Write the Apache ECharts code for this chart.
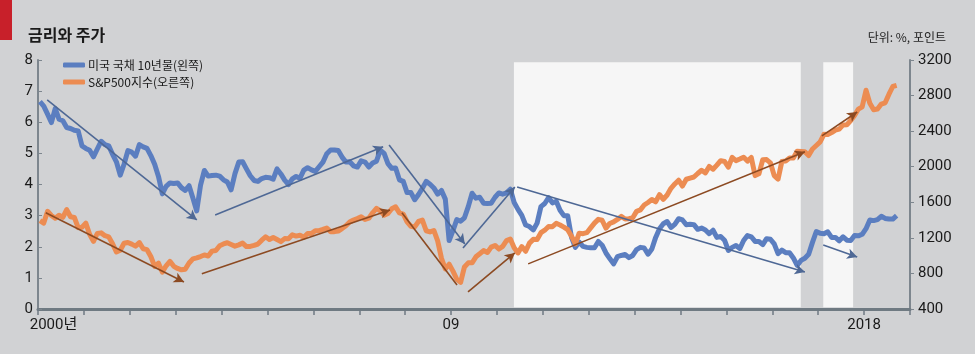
<!DOCTYPE html>
<html>
<head>
<meta charset="utf-8">
<title>금리와 주가</title>
<script src="https://cdn.jsdelivr.net/npm/echarts@6/dist/echarts.min.js"></script>
<style>
  html, body { margin: 0; padding: 0; background: #d1d2d4; }
  #chart { width: 975px; height: 354px; }
</style>
</head>
<body>
<div id="chart"></div>
<script>
// monthly values, Jan 2000 - Sep 2018
var startYear = 2000;

// US 10-year treasury yield (%) - left axis
var treasury10y = [
  6.66, 6.52, 6.26, 5.99, 6.44, 6.10, 6.05, 5.83, 5.80, 5.74, 5.72, 5.24,
  5.16, 5.10, 4.89, 5.14, 5.39, 5.28, 5.24, 4.97, 4.73, 4.30, 4.65, 5.09,
  5.04, 4.91, 5.28, 5.21, 5.16, 4.93, 4.65, 4.26, 3.70, 3.94, 4.05, 4.03,
  4.05, 3.90, 3.81, 3.96, 3.57, 3.15, 3.98, 4.45, 4.27, 4.29, 4.30, 4.27,
  4.15, 4.08, 3.83, 4.35, 4.72, 4.73, 4.50, 4.28, 4.13, 4.10, 4.19, 4.23,
  4.22, 4.17, 4.50, 4.34, 4.14, 4.00, 4.18, 4.26, 4.20, 4.46, 4.54, 4.47,
  4.42, 4.57, 4.72, 4.99, 5.11, 5.11, 5.09, 4.88, 4.72, 4.73, 4.60, 4.56,
  4.76, 4.72, 4.56, 4.69, 4.75, 5.10, 5.00, 4.67, 4.52, 4.53, 4.15, 4.10,
  3.74, 3.74, 3.51, 3.68, 3.88, 4.10, 4.01, 3.89, 3.69, 3.81, 3.53, 2.20,
  2.52, 2.87, 2.82, 2.93, 3.29, 3.72, 3.56, 3.59, 3.40, 3.39, 3.40, 3.59,
  3.73, 3.69, 3.73, 3.85, 3.42, 3.20, 3.01, 2.70, 2.65, 2.54, 2.76, 3.29,
  3.39, 3.58, 3.41, 3.46, 3.17, 3.00, 3.00, 2.30, 1.98, 2.15, 2.01, 1.98,
  1.97, 1.97, 2.17, 2.05, 1.80, 1.62, 1.45, 1.68, 1.72, 1.75, 1.65, 1.72,
  1.91, 1.98, 1.96, 1.76, 1.93, 2.30, 2.58, 2.74, 2.81, 2.62, 2.72, 2.90,
  2.86, 2.71, 2.72, 2.71, 2.56, 2.60, 2.54, 2.42, 2.53, 2.30, 2.33, 2.21,
  1.88, 1.98, 2.04, 1.94, 2.20, 2.36, 2.32, 2.17, 2.17, 2.07, 2.26, 2.24,
  2.09, 1.78, 1.89, 1.81, 1.81, 1.64, 1.40, 1.56, 1.63, 1.76, 2.14, 2.49,
  2.43, 2.42, 2.48, 2.30, 2.30, 2.19, 2.32, 2.21, 2.20, 2.36, 2.35, 2.40,
  2.58, 2.86, 2.84, 2.87, 2.98, 2.91, 2.89, 2.89, 3.00
];

// S&P 500 index (points) - right axis
var sp500 = [
  1394, 1366, 1499, 1452, 1421, 1455, 1431, 1518, 1437, 1429, 1315, 1320,
  1366, 1240, 1160, 1249, 1256, 1224, 1211, 1134, 1041, 1060, 1139, 1148,
  1130, 1107, 1147, 1077, 1067, 990, 880, 916, 815, 886, 936, 880,
  856, 841, 848, 917, 964, 975, 990, 1008, 996, 1051, 1058, 1112,
  1131, 1145, 1126, 1107, 1121, 1141, 1102, 1104, 1115, 1130, 1174, 1212,
  1181, 1204, 1181, 1157, 1192, 1191, 1234, 1220, 1229, 1207, 1249, 1248,
  1280, 1281, 1295, 1311, 1270, 1270, 1277, 1304, 1336, 1378, 1401, 1418,
  1438, 1407, 1421, 1482, 1531, 1503, 1455, 1474, 1527, 1549, 1481, 1468,
  1379, 1331, 1323, 1386, 1400, 1280, 1267, 1283, 1166, 969, 850, 903,
  826, 735, 700, 873, 919, 919, 987, 1021, 1057, 1036, 1096, 1115,
  1074, 1104, 1169, 1187, 1089, 1031, 1102, 1049, 1141, 1183, 1181, 1258,
  1286, 1327, 1326, 1364, 1345, 1321, 1292, 1219, 1131, 1253, 1247, 1258,
  1312, 1366, 1408, 1398, 1310, 1362, 1379, 1407, 1441, 1412, 1416, 1426,
  1498, 1515, 1569, 1598, 1631, 1606, 1686, 1633, 1682, 1757, 1806, 1848,
  1783, 1859, 1872, 1884, 1924, 1960, 1931, 2003, 1972, 2018, 2068, 2059,
  1995, 2105, 2068, 2086, 2107, 2063, 2104, 1900, 1920, 2079, 2080, 2044,
  1900, 1860, 2060, 2065, 2097, 2099, 2174, 2171, 2168, 2126, 2199, 2239,
  2279, 2364, 2363, 2384, 2412, 2423, 2470, 2472, 2519, 2575, 2648, 2674,
  2860, 2714, 2641, 2648, 2705, 2718, 2816, 2902, 2914
];

// shaded periods [from, to] in years
var shadedPeriods = [[2010.37, 2016.62], [2017.11, 2017.76]];

// annotation arrows [x1, y1, x2, y2, hasHead] in left-axis units
var blueArrows = [
  [2000.2, 6.72, 2003.46, 2.86, 1],
  [2003.86, 3.02, 2007.52, 5.21, 1],
  [2007.65, 5.27, 2009.30, 2.09, 1],
  [2009.26, 1.96, 2010.39, 3.92, 1],
  [2010.44, 3.92, 2016.71, 1.19, 1],
  [2017.11, 2.06, 2017.85, 1.67, 1]
];
var brownArrows = [
  [2000.17, 3.09, 2003.18, 0.87, 1],
  [2003.57, 1.13, 2007.67, 3.18, 1],
  [2007.93, 3.09, 2009.13, 0.77, 0],
  [2009.37, 0.55, 2010.39, 1.80, 1],
  [2010.68, 1.45, 2016.71, 5.05, 1],
  [2017.08, 5.56, 2017.85, 6.33, 1]
];

var xLabels = { 2000: '{a|2000년}', 2009: '09', 2018: '2018' };

function toPoints(values) {
  var pts = [];
  for (var i = 0; i < values.length; i++) {
    pts.push([startYear + (i + 0.5) / 12, values[i]]);
  }
  return pts;
}

function arrowLines(list) {
  return list.map(function (a) {
    return [
      { coord: [a[0], a[1]], symbol: 'none' },
      { coord: [a[2], a[3]], symbol: a[4] ? 'arrow' : 'none' }
    ];
  });
}

var font = 'Roboto, "Noto Sans CJK KR", sans-serif';
var chart = echarts.init(document.getElementById('chart'));

var option = {
  backgroundColor: '#d1d2d4',
  animation: false,
  textStyle: { fontFamily: font },
  title: [{
    text: '금리와 주가',
    left: 23,
    top: 22,
    textStyle: { fontSize: 16, fontWeight: 'bold', color: '#1a1a1a', fontFamily: '"Noto Sans CJK KR", sans-serif' }
  }, {
    text: '단위: %, 포인트',
    right: 24,
    top: 26,
    textStyle: { fontSize: 12, fontWeight: 'normal', color: '#222', fontFamily: '"Noto Sans CJK KR", sans-serif' }
  }],
  graphic: [{
    type: 'rect',
    shape: { x: 0, y: 0, width: 12, height: 40 },
    style: { fill: '#c8202a' }
  }],
  legend: {
    data: ['미국 국채 10년물(왼쪽)', 'S&P500지수(오른쪽)'],
    orient: 'vertical',
    left: 58,
    top: 54,
    itemGap: 5,
    itemWidth: 22,
    itemHeight: 5,
    icon: 'roundRect',
    textStyle: { fontSize: 12, color: '#1a1a1a', fontFamily: '"Noto Sans CJK KR", sans-serif', padding: [0, 0, 0, -2] }
  },
  grid: { left: 38, right: 65, top: 60, bottom: 45 },
  xAxis: {
    type: 'value',
    min: 2000,
    max: 2019,
    interval: 1,
    splitLine: { show: false },
    axisLine: { lineStyle: { color: '#6f7a82', width: 3 } },
    axisTick: { show: true, length: 6, lineStyle: { color: '#6f7a82', width: 1.5 } },
    axisLabel: {
      margin: 9,
      fontSize: 15,
      color: '#1a1a1a',
      showMinLabel: true,
      showMaxLabel: true,
      formatter: function (v) { return xLabels[v] || ''; },
      rich: { a: { fontSize: 15, color: '#1a1a1a', padding: [0, 0, 0, 31] } }
    }
  },
  yAxis: [{
    type: 'value',
    min: 0,
    max: 8,
    interval: 1,
    splitLine: { show: false },
    axisLine: { show: true, lineStyle: { color: '#7d868e', width: 2 } },
    axisTick: { show: true, inside: true, length: 4, lineStyle: { color: '#7d868e' } },
    axisLabel: { margin: 5, fontSize: 15, color: '#1a1a1a' }
  }, {
    type: 'value',
    min: 400,
    max: 3200,
    interval: 400,
    position: 'right',
    splitLine: { show: false },
    axisLine: { show: true, lineStyle: { color: '#7d868e', width: 2 } },
    axisTick: { show: true, length: 4, lineStyle: { color: '#7d868e' } },
    axisLabel: {
      margin: 8,
      fontSize: 15,
      color: '#1a1a1a',
      formatter: function (v) { return String(v); }
    }
  }],
  series: [{
    name: 'shade',
    type: 'line',
    data: [],
    z: 1,
    silent: true,
    markArea: {
      silent: true,
      itemStyle: { color: '#f6f6f6' },
      data: shadedPeriods.map(function (p) {
        return [{ xAxis: p[0], yAxis: 0.06 }, { xAxis: p[1], yAxis: 7.93 }];
      })
    }
  }, {
    name: '미국 국채 10년물(왼쪽)',
    type: 'line',
    yAxisIndex: 0,
    z: 3,
    showSymbol: false,
    symbol: 'none',
    color: '#5b7ec0',
    lineStyle: { width: 5, color: '#5b7ec0', join: 'round' },
    data: toPoints(treasury10y)
  }, {
    name: 'S&P500지수(오른쪽)',
    type: 'line',
    yAxisIndex: 1,
    z: 3,
    showSymbol: false,
    symbol: 'none',
    color: '#ec8c52',
    lineStyle: { width: 5, color: '#ec8c52', join: 'round' },
    data: toPoints(sp500)
  }, {
    name: 'blueArrows',
    type: 'line',
    data: [],
    z: 5,
    silent: true,
    markLine: {
      silent: true,
      symbolSize: [8, 10],
      label: { show: false },
      lineStyle: { type: 'solid', color: '#4e6895', width: 1.6 },
      emphasis: { disabled: true },
      data: arrowLines(blueArrows)
    }
  }, {
    name: 'brownArrows',
    type: 'line',
    data: [],
    z: 5,
    silent: true,
    markLine: {
      silent: true,
      symbolSize: [8, 10],
      label: { show: false },
      lineStyle: { type: 'solid', color: '#8c4a22', width: 1.6 },
      emphasis: { disabled: true },
      data: arrowLines(brownArrows)
    }
  }]
};

chart.setOption(option);
</script>
</body>
</html>
